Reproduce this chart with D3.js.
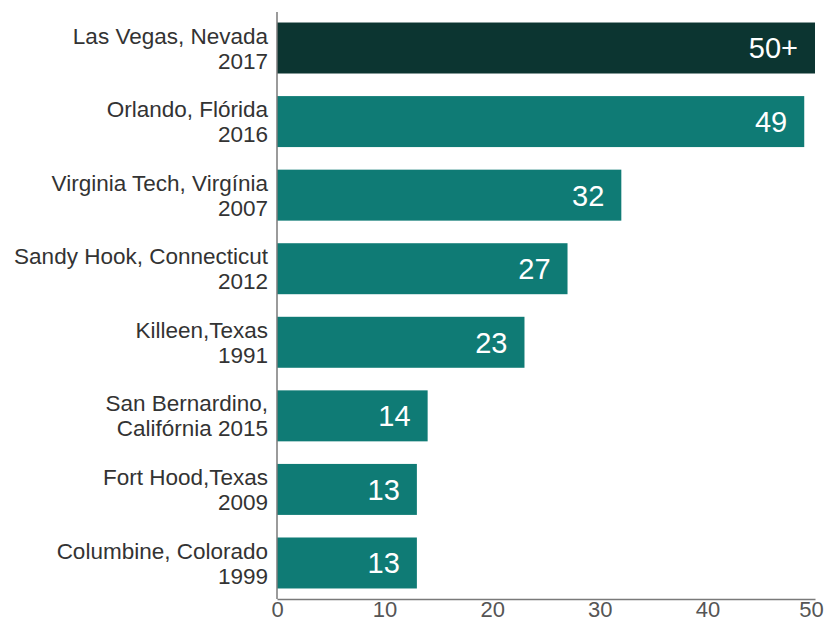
<!DOCTYPE html>
<html>
<head>
<meta charset="utf-8">
<script src="https://cdn.jsdelivr.net/npm/d3@7"></script>
<style>
  html, body { margin: 0; padding: 0; background: #fff; }
  svg { display: block; font-family: "Liberation Sans", Arial, Helvetica, sans-serif; }
</style>
</head>
<body>
<svg id="chart" width="825" height="623"></svg>
<script>
// Deadliest mass shootings in the US — victims per event
const places = [
  "Las Vegas, Nevada",
  "Orlando, Flórida",
  "Virginia Tech, Virgínia",
  "Sandy Hook, Connecticut",
  "Killeen,Texas",
  "San Bernardino,",
  "Fort Hood,Texas",
  "Columbine, Colorado"
];
const secondLines = ["2017", "2016", "2007", "2012", "1991", "Califórnia 2015", "2009", "1999"];
const victims = [50, 49, 32, 27, 23, 14, 13, 13];
const valueLabels = ["50+", "49", "32", "27", "23", "14", "13", "13"];
const xTicks = [0, 10, 20, 30, 40, 50];

const svg = d3.select("#chart");
const plotLeft = 277, plotRight = 815, plotTop = 12, plotBottom = 599;

const x = d3.scaleLinear().domain([0, 50]).range([plotLeft, plotRight]);
const y = d3.scaleBand()
  .domain(places)
  .range([plotTop, plotBottom])
  .paddingInner(0.307)
  .paddingOuter(0.143);

const rows = places.map((p, i) => ({
  place: p, line2: secondLines[i], value: victims[i], label: valueLabels[i], i
}));

// bars
svg.append("g").selectAll("rect")
  .data(rows)
  .join("rect")
  .attr("x", x(0))
  .attr("y", d => y(d.place))
  .attr("width", d => x(d.value) - x(0))
  .attr("height", y.bandwidth())
  .attr("fill", d => d.i === 0 ? "#0c3531" : "#0f7b75");

// value labels inside bar ends
svg.append("g").selectAll("text")
  .data(rows)
  .join("text")
  .attr("x", d => x(d.value) - 17)
  .attr("y", d => y(d.place) + y.bandwidth() / 2)
  .attr("dy", "0.36em")
  .attr("text-anchor", "end")
  .attr("fill", "#ffffff")
  .attr("font-size", 29)
  .text(d => d.label);

// category labels, two lines each
const cat = svg.append("g").selectAll("text")
  .data(rows)
  .join("text")
  .attr("text-anchor", "end")
  .attr("fill", "#333333")
  .attr("font-size", 22.5);
cat.append("tspan")
  .attr("x", plotLeft - 9)
  .attr("y", d => y(d.place) + y.bandwidth() / 2 - 12.5)
  .attr("dy", "0.36em")
  .text(d => d.place);
cat.append("tspan")
  .attr("x", plotLeft - 9)
  .attr("y", d => y(d.place) + y.bandwidth() / 2 + 12.5)
  .attr("dy", "0.36em")
  .text(d => d.line2);

// x axis
const xAxis = svg.append("g")
  .attr("transform", `translate(0,${plotBottom})`)
  .call(d3.axisBottom(x).tickValues(xTicks).tickSize(0).tickPadding(2));
xAxis.select(".domain").attr("stroke", "#7a7a7a").attr("stroke-width", 1.5);
xAxis.selectAll("text")
  .attr("fill", "#555555")
  .attr("font-size", 22)
  .attr("font-family", "'Liberation Sans', Arial, Helvetica, sans-serif");
// keep the last tick label inside the frame
xAxis.selectAll(".tick").filter(d => d === 50).select("text").attr("x", -4);

// y axis line
svg.append("line")
  .attr("x1", plotLeft).attr("x2", plotLeft)
  .attr("y1", plotTop).attr("y2", plotBottom)
  .attr("stroke", "#7a7a7a")
  .attr("stroke-width", 1.5);
</script>
</body>
</html>
